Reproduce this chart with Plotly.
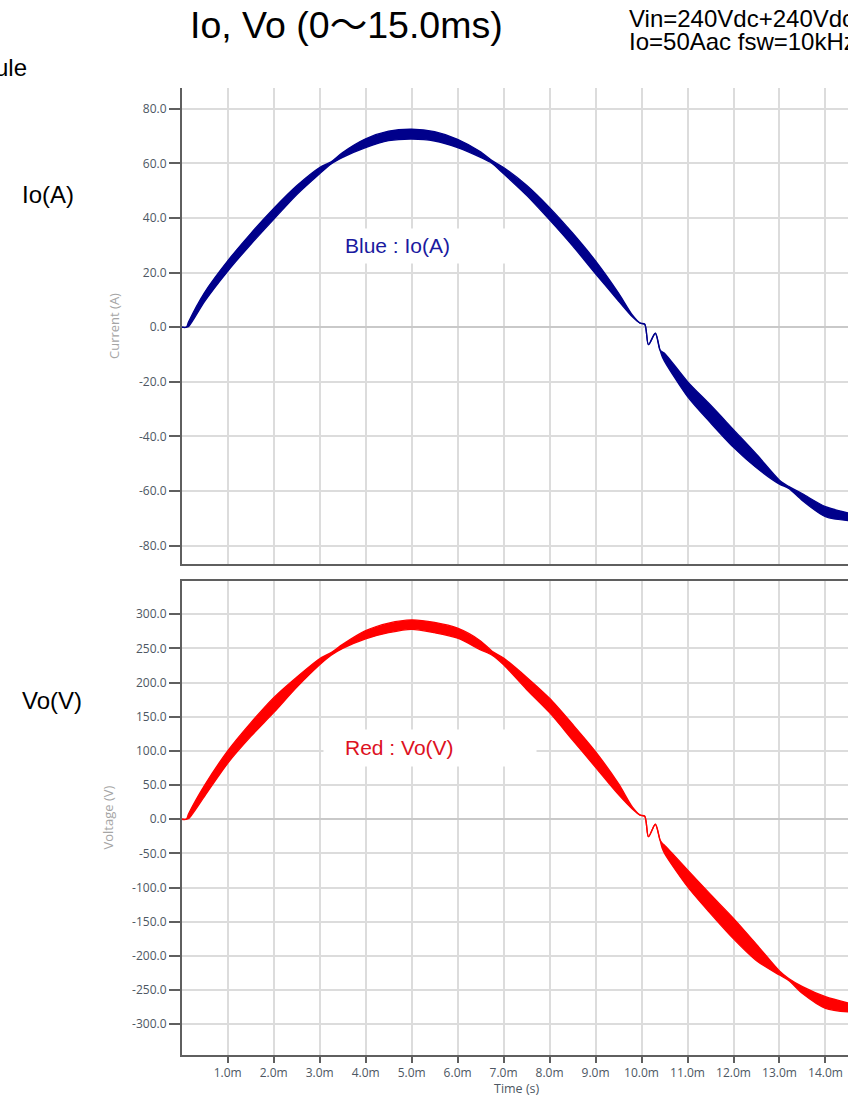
import plotly.graph_objects as go

# ---------------- data ----------------
t_ms = [0.0, 0.1, 0.15, 0.5, 1.0, 1.5, 2.0, 2.5, 3.0, 3.25, 3.5, 4.0, 4.5, 5.0, 5.5, 6.0,
        6.5, 6.75, 7.0, 7.5, 8.0, 8.5, 9.0, 9.5, 9.8, 9.97, 10.07, 10.15, 10.3, 10.4, 10.45,
        10.5, 11.0, 11.5, 12.0, 12.5, 13.0, 13.2, 13.5, 14.0, 14.5]

# Io ripple band: upper / lower envelope (A)
io_upper = [0, 0, 2.0, 12.8, 24.3, 34.3, 43.5, 51.8, 58.5, 60.6, 64.0, 69.0, 71.8, 72.5, 71.6,
            68.8, 64.2, 61.0, 58.5, 52.0, 43.8, 34.5, 24.3, 12.5, 4.5, 1.5, 1.1, -6.4, -2.2,
            -8.3, -9.0, -9.5, -19.9, -28.5, -37.5, -46.5, -56.0, -58.3, -61.0, -65.7, -68.0]
io_lower = [0, 0, 0.3, 9.5, 20.5, 30.3, 39.5, 48.5, 56.2, 59.8, 62.2, 65.8, 68.3, 68.9, 68.2,
            65.8, 62.2, 60.0, 56.2, 48.3, 39.3, 29.8, 19.6, 9.6, 3.8, 1.5, 1.1, -6.4, -2.2,
            -8.3, -10.8, -12.5, -25.4, -35.0, -44.0, -51.5, -57.5, -59.0, -63.5, -69.4, -70.8]

# Vo ripple band: upper / lower envelope (V)
vo_upper = [0, 0, 8, 50, 100, 141, 178, 208, 235, 244, 256, 276, 287, 291.7, 288, 279.6, 261,
            246, 236, 208, 177, 139, 99, 52, 18, 6, 4.5, -25.5, -7.3, -30, -35, -38, -74, -110,
            -145, -183, -222, -233, -245, -259.7, -269]
vo_lower = [0, 0, 1, 34, 82, 121, 156, 193, 226, 240, 250, 264, 273, 278, 273, 265, 248, 240,
            226, 190, 156, 116, 76, 36, 15, 6, 4.5, -25.5, -7.3, -30, -42.5, -50, -98.6, -138,
            -175, -207, -228, -236, -255, -276.7, -282]

x_tickvals = [1, 2, 3, 4, 5, 6, 7, 8, 9, 10, 11, 12, 13, 14]
x_ticktext = ["1.0m", "2.0m", "3.0m", "4.0m", "5.0m", "6.0m", "7.0m", "8.0m", "9.0m",
              "10.0m", "11.0m", "12.0m", "13.0m", "14.0m"]
i_tickvals = [80, 60, 40, 20, 0, -20, -40, -60, -80]
i_ticktext = ["80.0", "60.0", "40.0", "20.0", "0.0", "-20.0", "-40.0", "-60.0", "-80.0"]
v_tickvals = [300, 250, 200, 150, 100, 50, 0, -50, -100, -150, -200, -250, -300]
v_ticktext = ["300.0", "250.0", "200.0", "150.0", "100.0", "50.0", "0.0", "-50.0", "-100.0",
              "-150.0", "-200.0", "-250.0", "-300.0"]

# ---------------- figure ----------------
W, H = 848, 1095
BLUE = "#00008B"
RED = "#FF0000"


def px(x):
    return x / W


def py(y):
    return 1 - y / H


LINE_KW = dict(width=1.3, shape="spline", smoothing=0.8)

fig = go.Figure()
fig.add_trace(go.Scatter(x=t_ms, y=io_upper, mode="lines", line=dict(color=BLUE, **LINE_KW),
                         xaxis="x", yaxis="y", showlegend=False, hoverinfo="skip"))
fig.add_trace(go.Scatter(x=t_ms, y=io_lower, mode="lines", line=dict(color=BLUE, **LINE_KW),
                         fill="tonexty", fillcolor=BLUE,
                         xaxis="x", yaxis="y", showlegend=False, hoverinfo="skip"))
fig.add_trace(go.Scatter(x=t_ms, y=vo_upper, mode="lines", line=dict(color=RED, **LINE_KW),
                         xaxis="x2", yaxis="y2", showlegend=False, hoverinfo="skip"))
fig.add_trace(go.Scatter(x=t_ms, y=vo_lower, mode="lines", line=dict(color=RED, **LINE_KW),
                         fill="tonexty", fillcolor=RED,
                         xaxis="x2", yaxis="y2", showlegend=False, hoverinfo="skip"))

GRID = "#dcdcdc"
AXL = "#5f5f5f"
TICKF = dict(family="Open Sans", size=12, color="#4d5763")
xdom = [px(181.7), 1.0]
xrange = [0, 14.49]

common_x = dict(domain=xdom, range=xrange, tickvals=x_tickvals, showgrid=True, gridcolor=GRID,
                gridwidth=1.5, zeroline=False, showline=True, linecolor=AXL, linewidth=1.5)
common_y = dict(showgrid=True, gridcolor=GRID, gridwidth=1.5, zeroline=True,
                zerolinecolor="#c9c9c9", zerolinewidth=2, showline=True, linecolor=AXL,
                linewidth=1.5, ticks="outside", ticklen=11, tickwidth=1.5, tickcolor=AXL,
                tickfont=TICKF)

fig.update_layout(
    width=W, height=H,
    margin=dict(l=0, r=0, t=0, b=0),
    paper_bgcolor="white", plot_bgcolor="white",
    xaxis=dict(**common_x, anchor="y", showticklabels=False, ticks=""),
    yaxis=dict(**common_y, domain=[py(563.7), py(88.3)], range=[-86.6, 87.5], anchor="x",
               tickvals=i_tickvals, ticktext=i_ticktext),
    xaxis2=dict(**common_x, anchor="y2", ticktext=x_ticktext, ticks="outside", ticklen=6,
                tickwidth=1.5, tickcolor=AXL, tickfont=TICKF, mirror=True),
    yaxis2=dict(**common_y, domain=[py(1055), py(581)], range=[-345, 348.7], anchor="x2",
                tickvals=v_tickvals, ticktext=v_ticktext),
)

ARIAL = "Arial, 'Liberation Sans', 'Noto Sans CJK JP', sans-serif"
ann = []
ann.append(dict(text="Io, Vo (0〜15.0ms)", x=px(346.7), y=py(25), xanchor="center",
                yanchor="middle", font=dict(family=ARIAL, size=37.5, color="black")))
ann.append(dict(text="Vin=240Vdc+240Vdc", x=px(626.7), y=py(18), xanchor="left",
                yanchor="middle", font=dict(family=ARIAL, size=24, color="black")))
ann.append(dict(text="Io=50Aac fsw=10kHz", x=px(626.7), y=py(41), xanchor="left",
                yanchor="middle", font=dict(family=ARIAL, size=24, color="black")))
ann.append(dict(text="ule", x=px(29), y=py(67), xanchor="right", yanchor="middle",
                font=dict(family=ARIAL, size=24, color="black")))
ann.append(dict(text="Io(A)", x=px(20), y=py(194), xanchor="left", yanchor="middle",
                font=dict(family=ARIAL, size=24, color="black")))
ann.append(dict(text="Vo(V)", x=px(20), y=py(700), xanchor="left", yanchor="middle",
                font=dict(family=ARIAL, size=24, color="black")))
ann.append(dict(text="Current (A)", textangle=-90, x=px(114), y=py(326), xanchor="center",
                yanchor="middle", font=dict(family="Open Sans", size=13, color="#a5a5a5")))
ann.append(dict(text="Voltage (V)", textangle=-90, x=px(107.5), y=py(818), xanchor="center",
                yanchor="middle", font=dict(family="Open Sans", size=13, color="#a5a5a5")))
ann.append(dict(text="Time (s)", x=px(516.5), y=py(1088), xanchor="center", yanchor="middle",
                font=dict(family="Open Sans", size=12.5, color="#4d5763")))
# white label boxes
ann.append(dict(text=" ", x=px(323), y=py(228), xanchor="left", yanchor="top", width=181,
                height=34, bgcolor="white", borderpad=0))
ann.append(dict(text="Blue : Io(A)", x=px(342.7), y=py(245.5), xanchor="left", yanchor="middle",
                font=dict(family=ARIAL, size=21, color="#1a1aa0")))
ann.append(dict(text=" ", x=px(323), y=py(729), xanchor="left", yanchor="top", width=212,
                height=36, bgcolor="white", borderpad=0))
ann.append(dict(text="Red : Vo(V)", x=px(342.7), y=py(747), xanchor="left", yanchor="middle",
                font=dict(family=ARIAL, size=21, color="#dd1122")))
for a in ann:
    a.update(xref="paper", yref="paper", showarrow=False)
fig.update_layout(annotations=ann)

fig.write_html("out.html", config={"displayModeBar": False},
               post_script="document.body.style.margin='0';document.body.style.overflow='hidden';")
